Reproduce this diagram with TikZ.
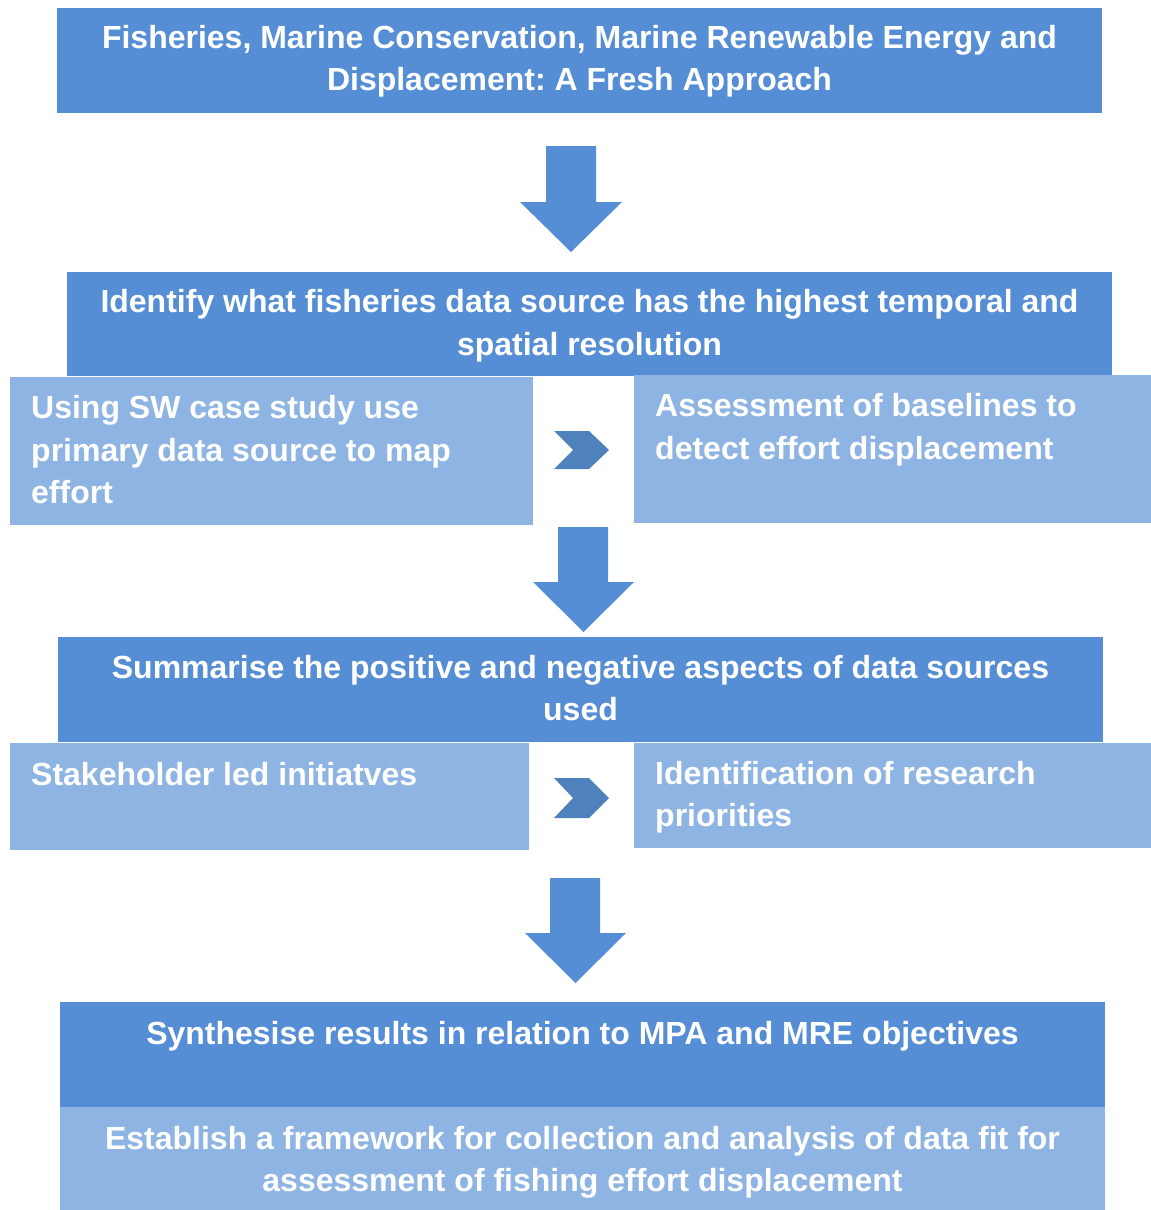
\documentclass[tikz,border=0pt]{standalone}
\usepackage{fontspec}
\setmainfont{Liberation Sans}
\definecolor{darkblue}{HTML}{558ED5}
\definecolor{lightblue}{HTML}{8EB4E3}
\definecolor{chevblue}{HTML}{4F81BD}
\frenchspacing
\begin{document}
\begin{tikzpicture}[x=1pt,y=-1pt,
  darkbox/.style={fill=darkblue, draw=none, inner sep=0pt, anchor=north west},
  lightbox/.style={fill=lightblue, draw=none, inner sep=0pt, anchor=north west},
  txt/.style={text=white, font=\fontsize{32}{42.5}\selectfont\bfseries, inner sep=0pt},
  blockarrow/.style={fill=darkblue, draw=none},
  chev/.style={fill=chevblue, draw=none}]
\useasboundingbox (0,0) rectangle (1151,1210);
\fill[white] (0,0) rectangle (1151,1210);

% boxes
\node[darkbox, minimum width=1045, minimum height=105] (b1) at (57,8) {};
\node[darkbox, minimum width=1045, minimum height=104] (b2) at (67,272) {};
\node[lightbox, minimum width=523, minimum height=148] (b2a) at (10,377) {};
\node[lightbox, minimum width=517, minimum height=148] (b2b) at (634,375) {};
\node[darkbox, minimum width=1045, minimum height=105] (b3) at (58,637) {};
\node[lightbox, minimum width=519, minimum height=107] (b3a) at (10,743) {};
\node[lightbox, minimum width=517, minimum height=105] (b3b) at (634,743) {};
\node[darkbox, minimum width=1045, minimum height=105] (b4) at (60,1002) {};
\node[lightbox, minimum width=1045, minimum height=103] (b4a) at (60,1107) {};

% texts
\node[txt, align=center] (t1) at (579.5,61) {Fisheries, Marine Conservation, Marine Renewable Energy and\\Displacement: A Fresh Approach};
\node[txt, align=center] (t2) at (589.5,325.5) {Identify what fisheries data source has the highest temporal and\\spatial resolution};
\node[txt, align=left, anchor=west] (t2a) at (31,450) {Using SW case study use\\primary data source to map\\effort};
\node[txt, align=left, anchor=west] (t2b) at (655,429.5) {Assessment of baselines to\\detect effort displacement};
\node[txt, align=center] (t3) at (580.5,688) {Summarise the positive and negative aspects of data sources\\used};
\node[txt, anchor=west] (t3a) at (31,774) {Stakeholder led initiatves};
\node[txt, align=left, anchor=west] (t3b) at (655,797) {Identification of research\\priorities};
\node[txt] (t4) at (582.5,1036) {Synthesise results in relation to MPA and MRE objectives};
\node[txt, align=center] (t4a) at (582.5,1162.5) {Establish a framework for collection and analysis of data fit for\\assessment of fishing effort displacement};

% block arrows
\fill[blockarrow] (546,146) -- (596,146) -- (596,202) -- (622,202) -- (571,252) -- (520,202) -- (546,202) -- cycle;
\fill[blockarrow] (558,527) -- (608,527) -- (608,582) -- (634,582) -- (583.5,632) -- (533,582) -- (558,582) -- cycle;
\fill[blockarrow] (550,878) -- (600,878) -- (600,933) -- (626,933) -- (575.5,983) -- (525,933) -- (550,933) -- cycle;

% chevrons
\fill[chev] (554,431) -- (589,431) -- (609,450) -- (589,469) -- (554,469) -- (573,450) -- cycle;
\fill[chev] (554,778) -- (589,778) -- (609,798) -- (589,818) -- (554,818) -- (573,798) -- cycle;
\end{tikzpicture}
\end{document}
